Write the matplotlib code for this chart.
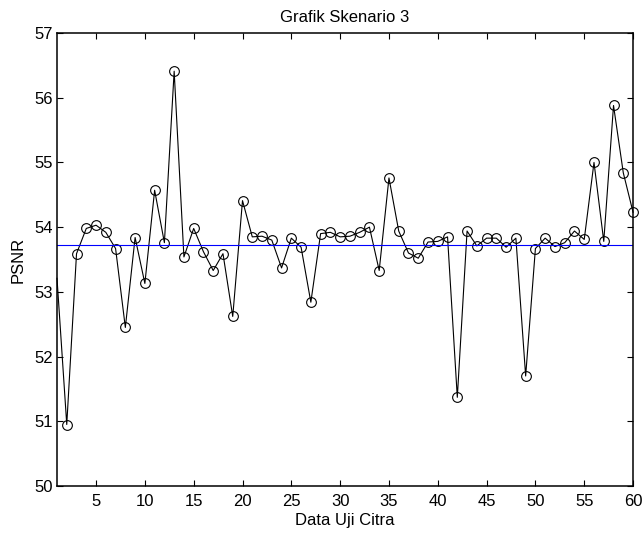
import numpy as np
import matplotlib
matplotlib.use('Agg')
import matplotlib.pyplot as plt

plt.rcParams['font.family'] = ['Liberation Sans', 'DejaVu Sans']

data_uji = np.arange(1, 61)
psnr = [53.21, 50.95, 53.59, 53.98, 54.03, 53.92, 53.67, 52.45, 53.84, 53.13,
        54.57, 53.76, 56.41, 53.54, 53.98, 53.62, 53.33, 53.59, 52.62, 54.41,
        53.85, 53.86, 53.80, 53.37, 53.83, 53.69, 52.84, 53.90, 53.92, 53.85,
        53.86, 53.92, 54.00, 53.33, 54.76, 53.94, 53.60, 53.52, 53.77, 53.78,
        53.85, 51.37, 53.94, 53.71, 53.83, 53.83, 53.69, 53.83, 51.70, 53.67,
        53.83, 53.70, 53.76, 53.94, 53.81, 55.00, 53.78, 55.88, 54.84, 54.23]
rata_rata = 53.73

fig = plt.figure(figsize=(6.44, 5.37), dpi=100)
ax = fig.add_axes([0.0885, 0.095, 0.8945, 0.8435])

ax.plot(data_uji, psnr, 'k-o', lw=0.8, ms=7, mfc='none', mew=0.8,
        markevery=slice(1, None), clip_on=False)
ax.axhline(rata_rata, color='#0000ff', lw=0.8)

ax.set_xlim(1, 60)
ax.set_ylim(50, 57)
ax.set_xticks(range(5, 61, 5))
ax.set_yticks(range(50, 58))
ax.tick_params(direction='in', top=True, right=True, labelsize=12, length=4, width=0.8)
ax.tick_params(axis='x', pad=6)
ax.tick_params(axis='y', pad=3)
for s in ax.spines.values():
    s.set_linewidth(1.1)

ax.set_title('Grafik Skenario 3', fontsize=12, pad=8)
ax.set_xlabel('Data Uji Citra', fontsize=12, labelpad=3)
ax.set_ylabel('PSNR', fontsize=12, labelpad=6)

fig.savefig('out.png', dpi=100)
